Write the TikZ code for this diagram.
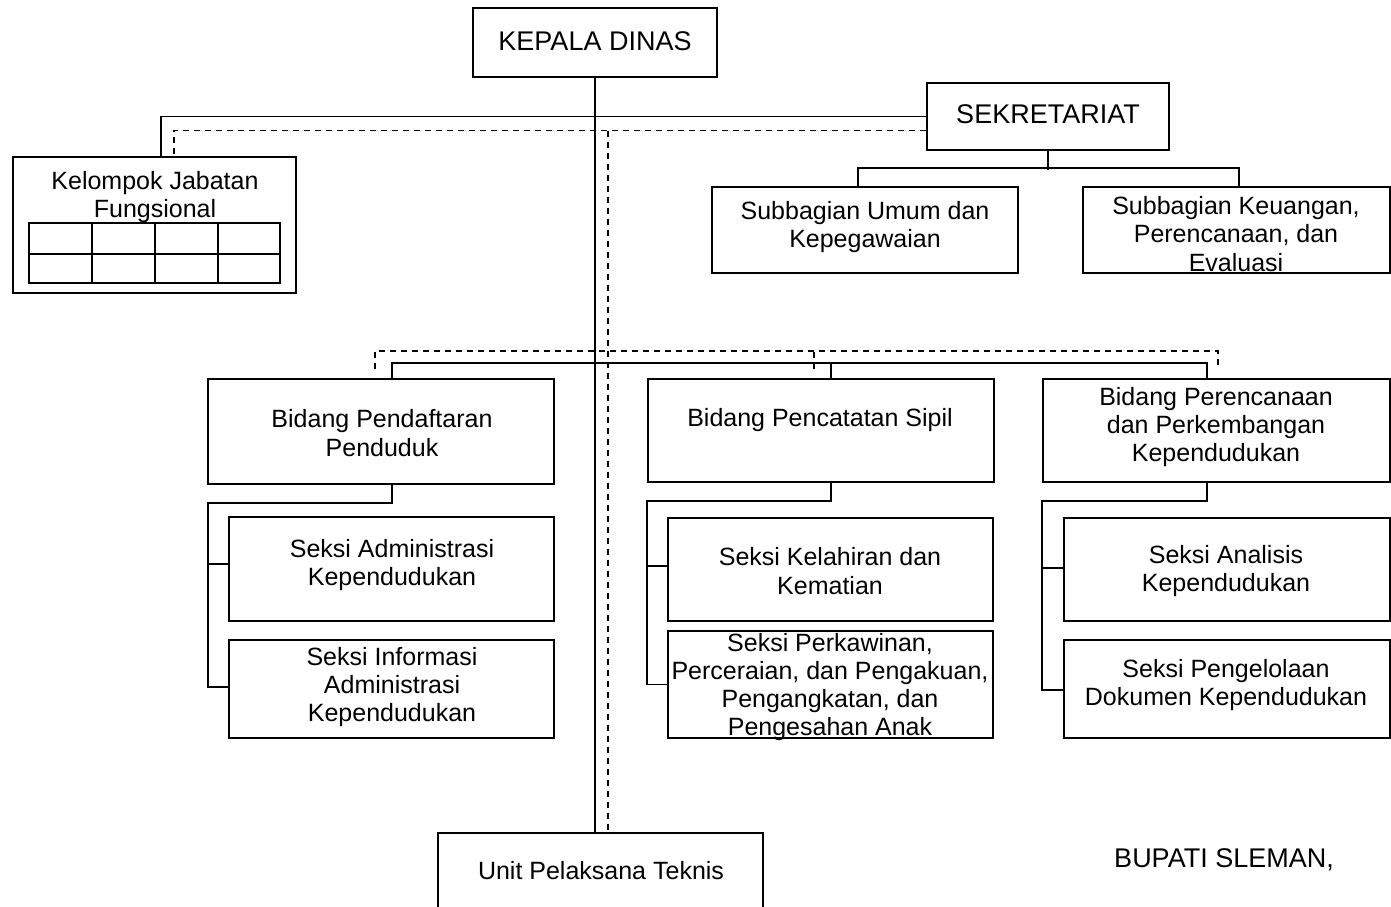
\documentclass[tikz,border=0pt]{standalone}
\usepackage{fontspec}
\setmainfont{Liberation Sans}
\begin{document}
\begin{tikzpicture}[x=1pt,y=-1pt,
  box/.style={draw, line width=1.6pt, inner sep=0pt},
  conn/.style={line width=1.6pt},
  dashline/.style={line width=1.6pt, dash pattern=on 6pt off 5pt},
  txt/.style={align=center, inner sep=0pt, yshift=-2pt, font=\fontsize{25}{28.2}\selectfont},
  captxt/.style={align=center, inner sep=0pt, font=\fontsize{27}{30}\selectfont}]
\useasboundingbox (0,0) rectangle (1391,906);
\fill[white] (0,0) rectangle (1391,906);

% boxes
\node[box, minimum width=244pt, minimum height=69pt] (kepala) at (595,42.5) {};
\node[box, minimum width=242pt, minimum height=67pt] (sek) at (1048,116.5) {};
\node[box, minimum width=283pt, minimum height=136pt] (kel) at (154.5,225) {};
\node[box, minimum width=306pt, minimum height=86pt] (umum) at (865,230) {};
\node[box, minimum width=307pt, minimum height=86pt] (keu) at (1236.5,230) {};
\node[box, minimum width=346pt, minimum height=105pt] (bpd) at (381,431.5) {};
\node[box, minimum width=346pt, minimum height=103pt] (bps) at (821,430.5) {};
\node[box, minimum width=347pt, minimum height=103pt] (bpk) at (1216.5,430.5) {};
\node[box, minimum width=325pt, minimum height=104pt] (sadm) at (391.5,569) {};
\node[box, minimum width=325pt, minimum height=98pt] (sinf) at (391.5,689) {};
\node[box, minimum width=325pt, minimum height=103pt] (skel) at (830.5,569.5) {};
\node[box, minimum width=325pt, minimum height=107pt] (sper) at (830.5,684.5) {};
\node[box, minimum width=326pt, minimum height=103pt] (sana) at (1227,569.5) {};
\node[box, minimum width=326pt, minimum height=98pt] (speng) at (1227,689) {};
\node[box, minimum width=325pt, minimum height=97pt] (unit) at (600.5,881.5) {};

% table inside Kelompok Jabatan Fungsional
\draw[conn] (29,223) rectangle (280,283);
\draw[conn] (29,254) -- (280,254);
\foreach \gx in {92,155,218} \draw[conn] (\gx,223) -- (\gx,283);

% texts
\node[captxt] (t-kepala) at (595,41) {KEPALA DINAS};
\node[captxt] (t-sek) at (1048,114) {SEKRETARIAT};
\node[txt] (t-kel) at (155,195) {Kelompok Jabatan\\Fungsional};
\node[txt] (t-umum) at (865,225) {Subbagian Umum dan\\Kepegawaian};
\node[txt] (t-keu) at (1236,232) {Subbagian Keuangan,\\Perencanaan, dan\\Evaluasi};
\node[txt] (t-bpd) at (382,431) {Bidang Pendaftaran\\Penduduk};
\node[txt] (t-bps) at (820,418) {Bidang Pencatatan Sipil};
\node[txt] (t-bpk) at (1216,425) {Bidang Perencanaan\\dan Perkembangan\\Kependudukan};
\node[txt] (t-sadm) at (392,563) {Seksi Administrasi\\Kependudukan};
\node[txt] (t-sinf) at (392,685) {Seksi Informasi\\Administrasi\\Kependudukan};
\node[txt] (t-skel) at (830,569) {Seksi Kelahiran dan\\Kematian};
\node[txt] (t-sper) at (830,685) {Seksi Perkawinan,\\Perceraian, dan Pengakuan,\\Pengangkatan, dan\\Pengesahan Anak};
\node[txt] (t-sana) at (1226,569) {Seksi Analisis\\Kependudukan};
\node[txt] (t-speng) at (1226,683) {Seksi Pengelolaan\\Dokumen Kependudukan};
\node[txt] (t-unit) at (601,869) {Unit Pelaksana Teknis};
\node[captxt] (t-bupati) at (1224,860) {BUPATI SLEMAN,};

% main vertical lines
\draw[conn] (kepala.south) -- (kepala.south |- unit.north);
\coordinate (dv) at (608,130.5);
\draw[dashline] (dv) -- (dv |- unit.north);

% Sekretariat / Kelompok links
\draw[conn] (sek.west) -| ([xshift=6.5pt]kel.north);
\draw[dashline] ([yshift=-14pt]sek.west) -| ([xshift=19.5pt]kel.north);

% Sekretariat subbagian
\draw[conn] (sek.south) -- ++(0,19);
\draw[conn] ([xshift=-7pt]umum.north) |- ++(0,-18) -| ([xshift=2.5pt]keu.north);

% Bidang solid
\draw[conn] ([xshift=11pt]bpd.north) |- ++(0,-15) -| ([xshift=-9.5pt]bpk.north);
\draw[conn] ([xshift=10pt]bps.north) -- ++(0,-15);

% Bidang dashed
\draw[dashline] ([xshift=-6pt,yshift=9pt]bpd.north) -- ++(0,-18) -| ([xshift=1.5pt,yshift=9pt]bpk.north);
\draw[dashline] ([xshift=-7pt,yshift=9pt]bps.north) -- ++(0,-18);

% Seksi left
\draw[conn] ([xshift=11pt]bpd.south) -- ++(0,18) -| ([xshift=-20pt,yshift=2pt]sinf.west) -- ([yshift=2pt]sinf.west);
\draw[conn] ([yshift=5pt]sadm.west) -- ++(-20,0);
% Seksi middle
\draw[conn] ([xshift=10pt]bps.south) -- ++(0,18) -| ([xshift=-20pt]sper.west) -- (sper.west);
\draw[conn] ([yshift=3.5pt]skel.west) -- ++(-20,0);
% Seksi right
\draw[conn] ([xshift=-9.5pt]bpk.south) -- ++(0,18) -| ([xshift=-21pt,yshift=-1pt]speng.west) -- ([yshift=-1pt]speng.west);
\draw[conn] ([yshift=1.5pt]sana.west) -- ++(-21,0);
\end{tikzpicture}
\end{document}
